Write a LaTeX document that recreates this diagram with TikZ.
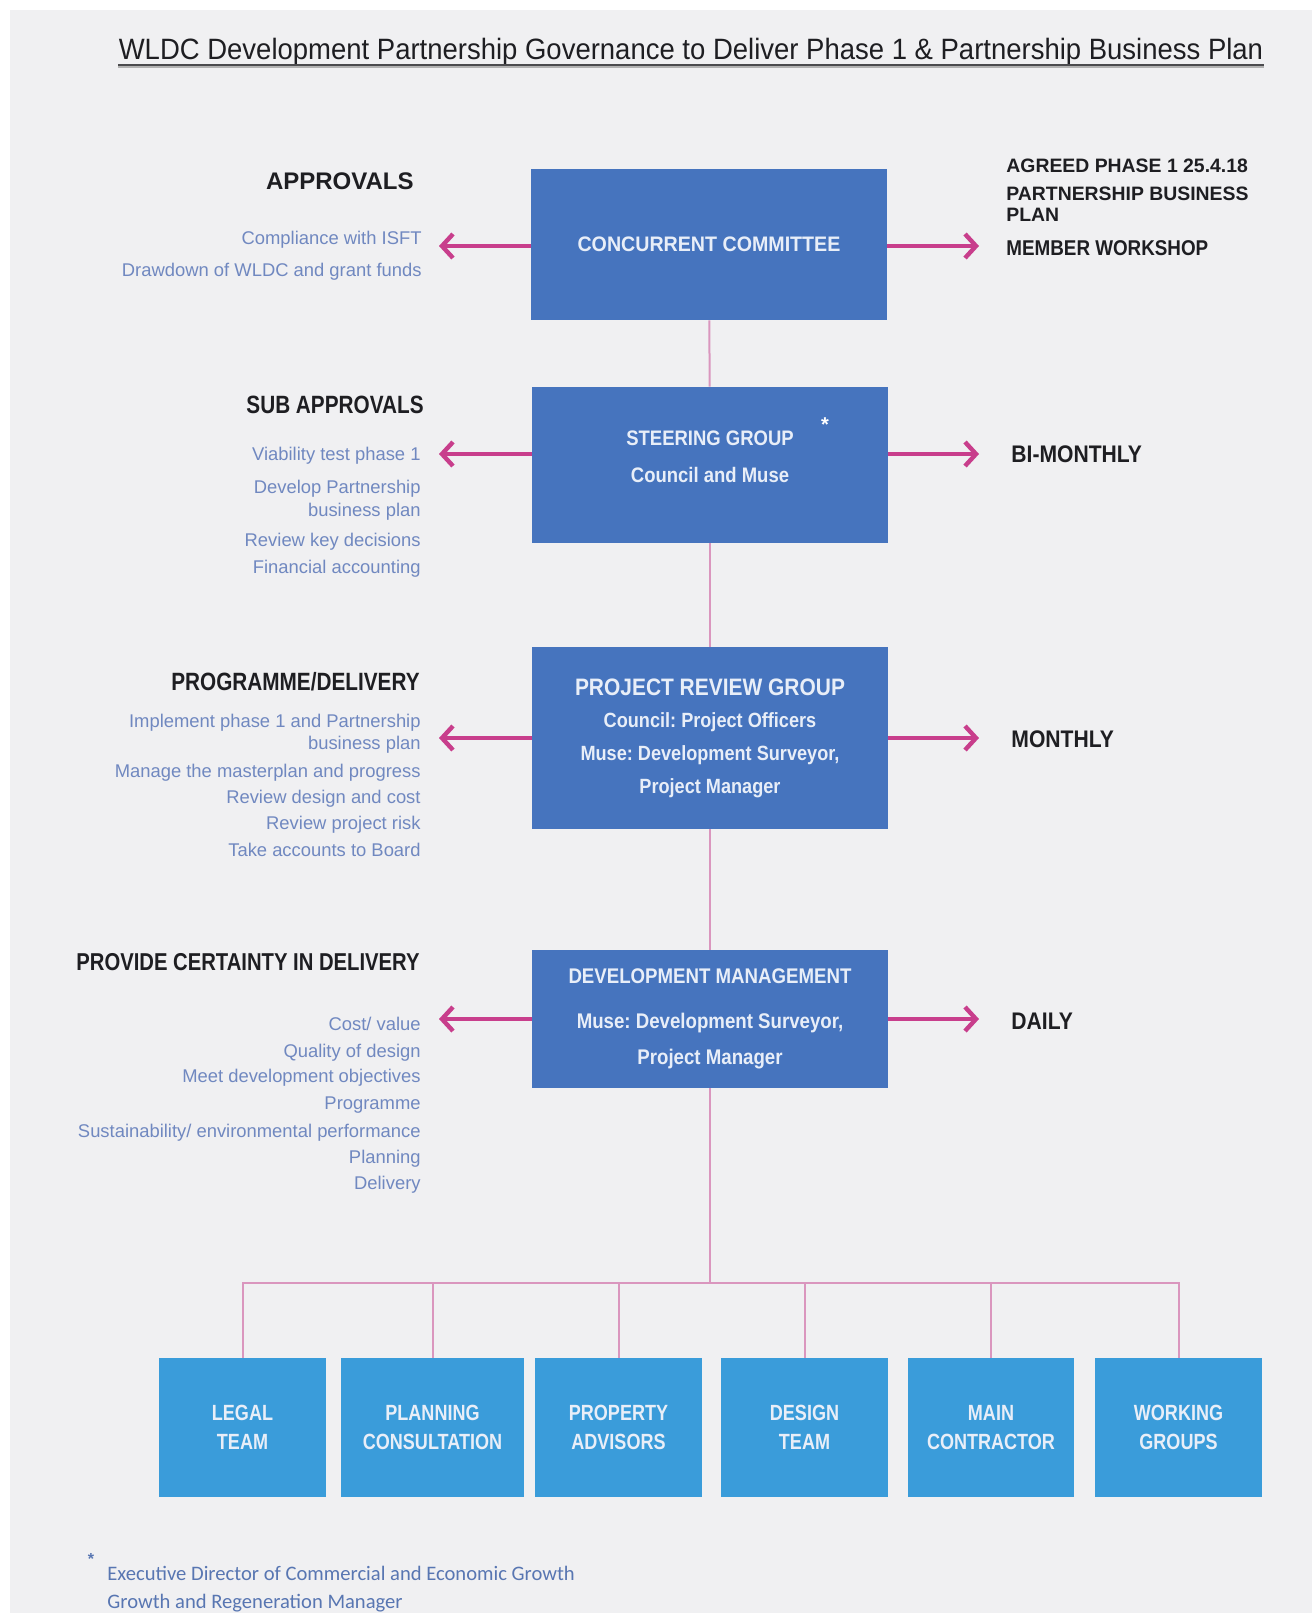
\documentclass[tikz,border=0pt]{standalone}
\usepackage{fontspec}
\setmainfont{Liberation Sans}
\newfontfamily\narrowsans{Liberation Sans}[FakeStretch=0.88]
\newfontfamily\headsans{Liberation Sans}[FakeStretch=0.83]
\newfontfamily\tightsans{Liberation Sans}[FakeStretch=0.82]
\newfontfamily\titlesans{Liberation Sans}[FakeStretch=0.935]
\newfontfamily\notefont{Carlito}
\usetikzlibrary{arrows.meta}

\definecolor{pagegray}{RGB}{240,240,242}
\definecolor{govblue}{RGB}{70,116,190}
\definecolor{teamblue}{RGB}{58,156,218}
\definecolor{boxtext}{RGB}{232,238,248}
\definecolor{headgray}{RGB}{30,30,34}
\definecolor{itemblue}{RGB}{112,136,192}
\definecolor{notecolor}{RGB}{88,118,178}
\definecolor{arrowpink}{RGB}{200,62,140}
\definecolor{linkpink}{RGB}{218,150,190}

\tikzset{
  mainbox/.style = {fill=govblue, text=boxtext, minimum width=178pt, align=center, inner sep=0pt},
  teambox/.style = {fill=teamblue, text=boxtext, minimum height=69.5pt, align=center, inner sep=0pt,
                    font=\tightsans\bfseries\fontsize{11}{14.5}\selectfont},
  boxlabel/.style = {text=boxtext, align=center, inner sep=0pt, font=\narrowsans\bfseries},
  heading/.style = {anchor=east, text=headgray, inner sep=0pt, text height=9pt, text depth=0pt,
                    font=\headsans\bfseries\fontsize{12.5}{15}\selectfont},
  item/.style = {anchor=east, text=itemblue, inner sep=0pt, text height=6.6pt, text depth=0pt,
                 font=\fontsize{9.2}{11}\selectfont},
  freq/.style = {anchor=west, text=headgray, inner sep=0pt, text height=8.6pt, text depth=0pt,
                 font=\narrowsans\bfseries\fontsize{12}{14}\selectfont},
  flow/.style = {draw=arrowpink, line width=2.4pt, -{Straight Barb[length=5.5pt, width=12pt, line width=2.2pt]}},
  link/.style = {draw=linkpink, line width=1pt}
}

\begin{document}
\frenchspacing
\begin{tikzpicture}[x=0.5pt, y=-0.5pt]
    \useasboundingbox (0,0) rectangle (1312,1613);
    \fill[white] (0,0) rectangle (1312,1613);
    \fill[pagegray] (10,10) rectangle (1312,1613);

    % title
    \node[inner sep=0pt, text height=10.5pt, text depth=0pt, text=headgray,
          font=\titlesans\fontsize{14.7}{17}\selectfont] (title) at (691,49)
          {WLDC Development Partnership Governance to Deliver Phase 1 \& Partnership Business Plan};
    \draw[black!30, line width=1.2pt] ([yshift=-3.3pt]title.south west) -- ([yshift=-3.3pt]title.south east);
    \draw[headgray!80, line width=1.1pt] ([yshift=-2.6pt]title.south west) -- ([yshift=-2.6pt]title.south east);

    % governance boxes
    \node[mainbox, minimum height=75.5pt, font=\titlesans\bfseries\fontsize{10.5}{13}\selectfont] (cc) at (709,244.5)
          {CONCURRENT COMMITTEE};
    \node[mainbox, minimum height=78pt] (sg) at (710,465) {};
    \node[boxlabel, font=\narrowsans\bfseries\fontsize{10.5}{18.5}\selectfont] (sglabel) at (710,457)
          {STEERING GROUP\\Council and Muse};
    \node[boxlabel, text=white, font=\bfseries\fontsize{10}{10}\selectfont] (star1) at (825,425) {*};
    \node[mainbox, minimum height=91pt, font=\narrowsans\bfseries\fontsize{10.3}{16.3}\selectfont] (prg) at (710,738)
          {{\fontsize{11.9}{16.3}\selectfont PROJECT REVIEW GROUP}\\Council: Project Officers\\
           Muse: Development Surveyor,\\Project Manager};
    \node[mainbox, minimum height=69pt, font=\narrowsans\bfseries\fontsize{10.6}{17.75}\selectfont] (dm) at (710,1019)
          {DEVELOPMENT MANAGEMENT\\[4.75pt]Muse: Development Surveyor,\\Project Manager};

    % left side headings and items
    \node[heading, font=\bfseries\fontsize{12}{15}\selectfont] (approvals) at (414,180) {APPROVALS};
    \foreach \yy/\t [count=\i] in {238/Compliance with ISFT, 270/Drawdown of WLDC and grant funds}
        \node[item] (ap\i) at (422,\yy) {\t};

    \node[heading] (subapprovals) at (424,404) {SUB APPROVALS};
    \foreach \yy/\t [count=\i] in {454/Viability test phase 1, 487/Develop Partnership, 510/business plan,
                                   540/Review key decisions, 567/Financial accounting}
        \node[item] (sa\i) at (421,\yy) {\t};

    \node[heading] (programme) at (420,681) {PROGRAMME/DELIVERY};
    \foreach \yy/\t [count=\i] in {721/Implement phase 1 and Partnership, 743/business plan,
                                   771/Manage the masterplan and progress, 797/Review design and cost,
                                   823/Review project risk, 850/Take accounts to Board}
        \node[item] (pd\i) at (421,\yy) {\t};

    \node[heading, font=\headsans\bfseries\fontsize{12.2}{15}\selectfont] (certainty) at (420,961) {PROVIDE CERTAINTY IN DELIVERY};
    \foreach \yy/\t [count=\i] in {1024/{Cost/ value}, 1051/Quality of design, 1076/Meet development objectives,
                                   1103/Programme, 1131/{Sustainability/ environmental performance},
                                   1157/Planning, 1183/Delivery}
        \node[item] (pc\i) at (421,\yy) {\t};

    % right side
    \node[freq, text height=7pt, font=\bfseries\fontsize{9.7}{12}\selectfont] (agreed) at (1006,165) {AGREED PHASE 1 25.4.18};
    \node[anchor=north west, inner sep=0pt, text=headgray, align=left,
          font=\bfseries\fontsize{9.7}{10.75}\selectfont] (pbplan) at (1006,186.5) {PARTNERSHIP BUSINESS\\PLAN};
    \node[freq, text height=7.5pt, font=\narrowsans\bfseries\fontsize{10.7}{13}\selectfont] (member) at (1006,247.5) {MEMBER WORKSHOP};
    \node[freq] (bimonthly) at (1011,454) {BI-MONTHLY};
    \node[freq] (monthly) at (1011,738.5) {MONTHLY};
    \node[freq] (daily) at (1011,1021) {DAILY};

    % arrows
    \coordinate (ccL) at (439,246);
    \coordinate (ccR) at (979,246);
    \coordinate (sgL) at (439,454);
    \coordinate (sgR) at (979,454);
    \coordinate (prgL) at (439,738);
    \coordinate (prgR) at (979,738);
    \coordinate (dmL) at (439,1019);
    \coordinate (dmR) at (979,1019);
    \draw[flow] (cc.west |- ccL) -- (ccL);
    \draw[flow] (cc.east |- ccR) -- (ccR);
    \draw[flow] (sg.west |- sgL) -- (sgL);
    \draw[flow] (sg.east |- sgR) -- (sgR);
    \draw[flow] (prg.west |- prgL) -- (prgL);
    \draw[flow] (prg.east |- prgR) -- (prgR);
    \draw[flow] (dm.west |- dmL) -- (dmL);
    \draw[flow] (dm.east |- dmR) -- (dmR);

    % team boxes
    \node[teambox, minimum width=83.5pt] (legal) at (242.5,1427.5) {LEGAL\\TEAM};
    \node[teambox, minimum width=91.5pt] (planning) at (432.5,1427.5) {PLANNING\\CONSULTATION};
    \node[teambox, minimum width=83.5pt] (property) at (618.5,1427.5) {PROPERTY\\ADVISORS};
    \node[teambox, minimum width=83.5pt] (design) at (804.5,1427.5) {DESIGN\\TEAM};
    \node[teambox, minimum width=83pt] (contractor) at (991,1427.5) {MAIN\\CONTRACTOR};
    \node[teambox, minimum width=83.5pt] (working) at (1178.5,1427.5) {WORKING\\GROUPS};

    % links
    \coordinate (hub) at (710,1283);
    \draw[link] (cc) -- (sg);
    \draw[link] (sg) -- (prg);
    \draw[link] (prg) -- (dm);
    \draw[link] (dm) -- (hub);
    \foreach \n in {legal,planning,property,design,contractor,working}
        \draw[link] (hub) -| (\n.north);

    % footnote
    \node[text=notecolor, inner sep=0pt, font=\bfseries\fontsize{8}{8}\selectfont] (star2) at (91,1559) {*};
    \node[anchor=west, inner sep=0pt, text=notecolor, align=left, font=\notefont\fontsize{10.3}{14}\selectfont] (note) at (107,1589)
          {Executive Director of Commercial and Economic Growth\\Growth and Regeneration Manager};
\end{tikzpicture}
\end{document}
